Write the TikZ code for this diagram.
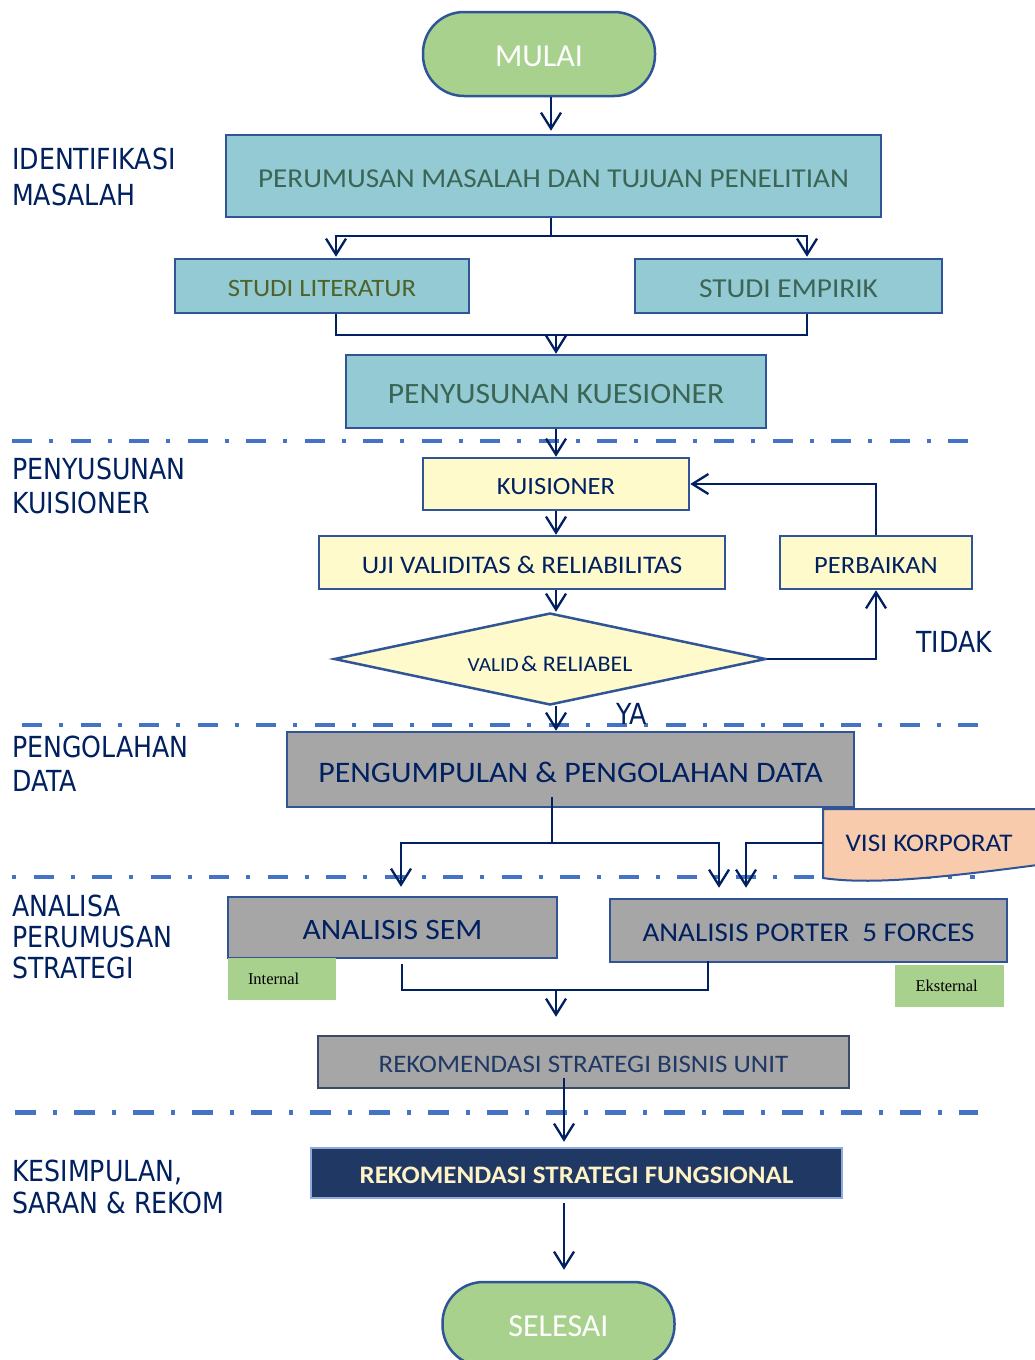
\documentclass[tikz,border=0pt]{standalone}
\usepackage{fontspec}
\newfontfamily\boxfont{Carlito}[FakeStretch=1.07]
\newfontfamily\roundfont{Carlito}
\newfontfamily\labelfont{DejaVu Sans}[FakeStretch=0.87]
\newfontfamily\tagfont{Liberation Serif}
\usetikzlibrary{arrows.meta,shapes.geometric,calc}

\newcommand\setfs[2]{\fontsize{#1}{#2}\selectfont}
% sink the printed text a little below the geometric centre of its box
\newcommand\sunk[2][2.7pt]{\raisebox{-#1}[\height][\depth]{#2}}

\definecolor{navy}{HTML}{002060}
\definecolor{edge}{HTML}{2F5597}
\definecolor{tealfill}{HTML}{93CAD4}
\definecolor{tealtext}{HTML}{3B6656}
\definecolor{olivetext}{HTML}{4F6228}
\definecolor{creamfill}{HTML}{FFFACC}
\definecolor{grayfill}{HTML}{A6A6A6}
\definecolor{greenfill}{HTML}{A9D18E}
\definecolor{peachfill}{HTML}{F8CBAD}
\definecolor{darkfill}{HTML}{203864}
\definecolor{lightedge}{HTML}{8FAADC}
\definecolor{paletext}{HTML}{FFF2C4}
\definecolor{dashblue}{HTML}{4472C4}
\definecolor{unittext}{HTML}{203864}
\definecolor{slateedge}{HTML}{3B4A6B}

\tikzset{
  box/.style={draw=edge, line width=2.5pt, inner sep=0pt},
  tealbox/.style={box, fill=tealfill, text=tealtext},
  creambox/.style={box, fill=creamfill, text=navy},
  graybox/.style={box, fill=grayfill, text=navy},
  terminal/.style={draw=edge, line width=2.5pt, fill=greenfill, text=white,
    rounded corners=41pt, minimum width=232pt, minimum height=84pt,
    inner sep=0pt, font=\roundfont\setfs{32}{32}},
  flow/.style={draw=navy, line width=2.3pt,
    -{Straight Barb[length=16pt,width=20pt]}},
  plainline/.style={draw=navy, line width=2.3pt},
  sect/.style={draw=dashblue, line width=4.5pt,
    dash pattern=on 20pt off 17pt on 4pt off 17.5pt},
  side/.style={anchor=west, inner sep=0pt, align=left, text=navy},
  tag/.style={fill=greenfill, inner ysep=0pt, inner xsep=20pt,
    minimum height=42pt, text width=68pt, align=left,
    font=\tagfont\setfs{16.5}{17}},
}

\begin{document}
\begin{tikzpicture}[x=1pt,y=-1pt]
\path[use as bounding box, fill=white] (0,0) rectangle (1035,1360);
\clip (0,0) rectangle (1035,1360);

% section separators
\draw[sect] (12,441) -- (975,441);
\draw[sect] (22,725) -- (985,725);
\draw[sect, dash phase=37pt] (12,877) -- (975,877);
\draw[sect, line width=5pt, dash pattern=on 21pt off 17pt on 4pt off 17pt] (15,1112) -- (978,1112);

% section titles
\node[side, font=\labelfont\setfs{29}{36}] (tIdent) at (12,176.5) {IDENTIFIKASI\\MASALAH};
\node[side, font=\labelfont\setfs{29}{34}] (tSusun) at (12,486) {PENYUSUNAN\\KUISIONER};
\node[side, font=\labelfont\setfs{29}{34}] (tOlah) at (12,764) {PENGOLAHAN\\DATA};
\node[side, font=\labelfont\setfs{29}{31}] (tAnalisa) at (12,937) {ANALISA\\PERUMUSAN\\STRATEGI};
\node[side, font=\labelfont\setfs{29}{32}] (tSimpul) at (12,1187) {KESIMPULAN,\\SARAN \& REKOM};

% column helpers for connectors
\coordinate (c336) at (336,0);
\coordinate (c401) at (401,0);
\coordinate (c402) at (402,0);
\coordinate (c551) at (551,0);
\coordinate (c556) at (556,0);
\coordinate (c564) at (564,0);
\coordinate (c708) at (708,0);
\coordinate (c719) at (719,0);
\coordinate (c746) at (746,0);
\coordinate (c807) at (807,0);

% nodes
\node[terminal] (mulai) at (539,54) {\sunk[2pt]{MULAI}};
\node[tealbox, minimum width=655pt, minimum height=82pt, font=\boxfont\setfs{27.3}{28}]
  (perumusan) at (553.5,176) {\sunk{PERUMUSAN MASALAH DAN TUJUAN PENELITIAN}};
\node[tealbox, text=olivetext, minimum width=294pt, minimum height=54pt, font=\boxfont\setfs{25}{25}]
  (literatur) at (322,286) {\sunk{STUDI LITERATUR}};
\node[tealbox, minimum width=307pt, minimum height=54pt, font=\boxfont\setfs{27.4}{28}]
  (empirik) at (788.5,286) {\sunk{STUDI EMPIRIK}};
\node[tealbox, minimum width=420pt, minimum height=73pt, font=\boxfont\setfs{29.5}{30}]
  (kuesioner) at (556,391.5) {\sunk{PENYUSUNAN KUESIONER}};
\node[creambox, minimum width=266pt, minimum height=52pt, font=\boxfont\setfs{24.8}{25}]
  (kuis) at (556,484) {\sunk{KUISIONER}};
\node[creambox, minimum width=406pt, minimum height=53pt, font=\boxfont\setfs{25.3}{26}]
  (uji) at (522,562.5) {\sunk{UJI VALIDITAS \& RELIABILITAS}};
\node[creambox, minimum width=192pt, minimum height=53pt, font=\boxfont\setfs{24.8}{25}]
  (perbaikan) at (876,562.5) {\sunk{PERBAIKAN}};
\node[diamond, draw=edge, line width=2.5pt, fill=creamfill, text=navy, inner sep=0pt,
  aspect=4.7, minimum width=432pt, minimum height=92pt, font=\boxfont]
  (cek) at (550,659) {\sunk[4.5pt]{{\setfs{20}{20}VALID} {\setfs{22.4}{23}\& RELIABEL}}};
\node[graybox, minimum width=567pt, minimum height=75pt, font=\boxfont\setfs{29.8}{30}]
  (pengumpulan) at (570.5,769.5) {\sunk{PENGUMPULAN \& PENGOLAHAN DATA}};

% corporate vision document shape
\path[draw=edge, line width=2pt, fill=peachfill]
  (823,809) -- (1045,809) -- (1045,864)
  .. controls (940,878) and (870,885) .. (823,878) -- cycle;
\node[inner sep=0pt, minimum width=212pt, text=navy, font=\boxfont\setfs{25.4}{26}]
  (visi) at (929,843) {VISI KORPORAT};

\node[graybox, minimum width=329pt, minimum height=61pt, font=\boxfont\setfs{29.6}{30}]
  (sem) at (392.5,927.5) {\sunk{ANALISIS SEM}};
\node[graybox, minimum width=397pt, minimum height=63pt, font=\boxfont\setfs{27.2}{28}]
  (porter) at (808.5,930.5) {\sunk{ANALISIS PORTER\ \ 5 FORCES}};
\node[tag, minimum width=108pt] (internal) at (282,979) {Internal};
\node[tag, minimum width=109pt] (eksternal) at (949.5,985.5) {Eksternal};
\node[graybox, draw=slateedge, text=unittext, minimum width=531pt, minimum height=52pt,
  font=\boxfont\setfs{25.2}{26}]
  (bisnis) at (583.5,1062) {\sunk{REKOMENDASI STRATEGI BISNIS UNIT}};
\node[box, fill=darkfill, draw=lightedge, text=paletext, minimum width=531pt, minimum height=50pt,
  font=\boxfont\bfseries\setfs{25.2}{26}]
  (fungsional) at (576.5,1173) {\sunk{REKOMENDASI STRATEGI FUNGSIONAL}};
\node[terminal] (selesai) at (558.5,1324) {\sunk{SELESAI}};

% decision labels
\node[anchor=base west, inner sep=0pt, text=navy, font=\labelfont\setfs{29}{29}] (tidak) at (916,652.7) {TIDAK};
\node[anchor=base west, inner sep=0pt, text=navy, font=\labelfont\setfs{29}{29}] (ya) at (616,724) {YA};

% connectors
\draw[flow] (mulai.south -| c551) -- ($(perumusan.north -| c551)+(0,-3)$);

\coordinate (fork) at (551,236);
\draw[plainline] (perumusan.south -| fork) -- (fork);
\draw[flow] (fork) -| ($(literatur.north -| c336)+(0,-1)$);
\draw[flow] (fork) -| ($(empirik.north -| c807)+(0,-1)$);

\coordinate (join) at (556,335);
\draw[plainline] (literatur.south -| c336) |- (join) -- (join -| c807) -- (empirik.south -| c807);
\draw[flow] (join) -- (kuesioner.north -| join);

\draw[flow] (kuesioner.south -| c556) -- (kuis.north -| c556);
\draw[flow] (kuis.south -| c556) -- (uji.north -| c556);
\draw[flow] (uji.south -| c556) -- (cek.north -| c556);
\draw[flow] (cek.east) -| (perbaikan.south);
\draw[flow] (perbaikan.north) |- (kuis.east);
\draw[flow] (cek.south -| c556) -- (pengumpulan.north -| c556);

\coordinate (split) at (552,843);
\draw[plainline] ($(pengumpulan.south -| split)+(0,-11)$) -- (split);
\draw[flow] (split) -| ($(sem.north -| c401)+(0,-9)$);
\draw[flow] (split) -| ($(porter.north -| c719)+(0,-10)$);
\draw[flow] (visi.west) -| ($(porter.north -| c746)+(0,-10)$);

\coordinate (merge) at (556,990);
\draw[plainline] ($(sem.south -| c402)+(0,5)$) |- (merge) -- (merge -| c708) -- ($(porter.south -| c708)+(0,-2)$);
\draw[flow] (merge) -- ($(bisnis.north -| merge)+(0,-18)$);

\draw[flow] ($(bisnis.south -| c564)+(0,-11)$) -- ($(fungsional.north -| c564)+(0,-5)$);
\draw[flow] ($(fungsional.south -| c564)+(0,4)$) -- ($(selesai.north -| c564)+(0,-11)$);
\end{tikzpicture}
\end{document}
